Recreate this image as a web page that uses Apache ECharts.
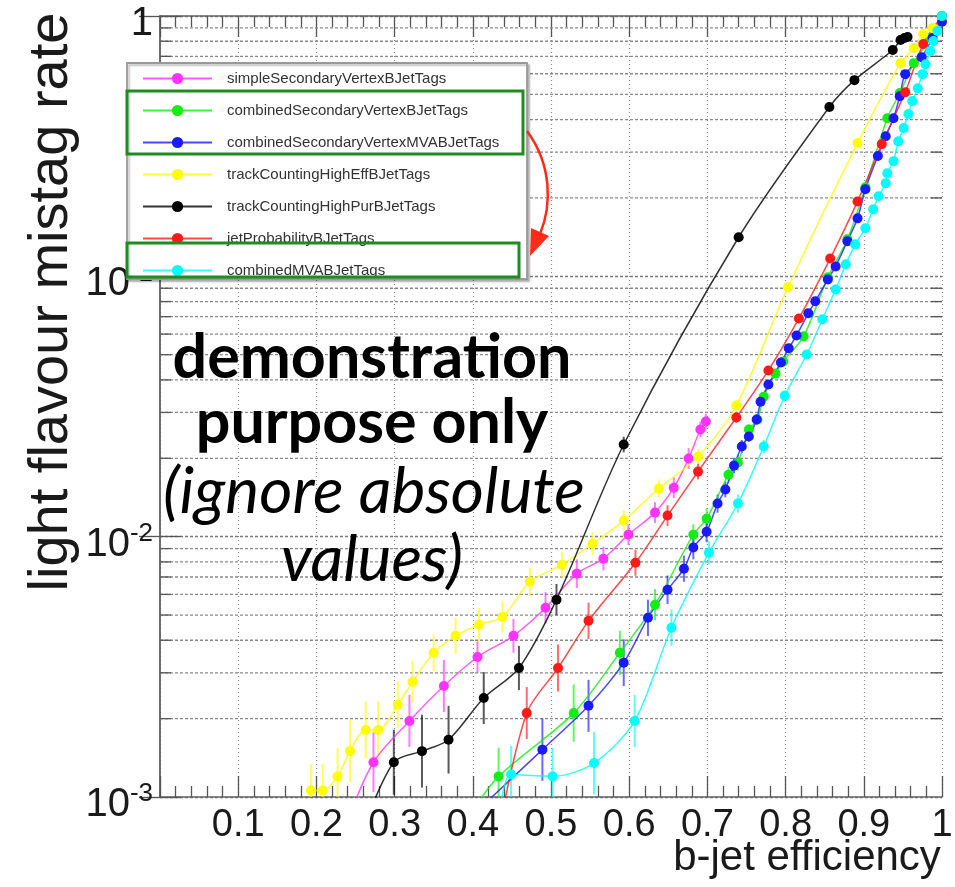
<!DOCTYPE html>
<html><head><meta charset="utf-8">
<script src="https://cdn.jsdelivr.net/npm/echarts@6/dist/echarts.min.js"></script>
<style>html,body{margin:0;padding:0;background:#fff}#c{width:955px;height:887px}</style>
</head><body><div id="c"></div>
<script>
// ---------------- data ----------------
const seriesNames = ['simpleSecondaryVertexBJetTags','combinedSecondaryVertexBJetTags','combinedSecondaryVertexMVABJetTags','trackCountingHighEffBJetTags','trackCountingHighPurBJetTags','jetProbabilityBJetTags','combinedMVABJetTags'];

const ssvX = [0.238,0.273,0.319,0.363,0.406,0.452,0.493,0.533,0.567,0.599,0.633,0.657,0.676,0.691,0.698];
const ssvY = [7.87e-4,1.36e-3,1.96e-3,2.67e-3,3.45e-3,4.16e-3,5.33e-3,7.21e-3,8.23e-3,0.01018,0.01237,0.01542,0.01995,0.0258,0.0277];
const ssvErr = [0,0.115,0.10,0.10,0.06,0.065,0.06,0.055,0.045,0.04,0.04,0.04,0.04,0.03,0.03];

const csvX = [0.397,0.433,0.529,0.588,0.633,0.682,0.699,0.727,0.739,0.753,0.764,0.772,0.787,0.797,0.823,0.854,0.879,0.902,0.930,0.946,0.964,0.985,1.0];
const csvY = [8.60e-4,1.20e-3,2.10e-3,3.58e-3,5.48e-3,0.01018,0.01173,0.01730,0.01927,0.0258,0.0282,0.0345,0.0423,0.0471,0.0588,0.0991,0.1387,0.220,0.405,0.506,0.659,0.823,1.0];
const csvErr = [0,0.11,0.11,0.085,0.06,0.04,0.04,0.03,0.03,0.02,0.02,0,0,0,0,0,0,0,0,0,0,0,0];

const csvmvaX = [0.397,0.489,0.548,0.593,0.624,0.649,0.670,0.682,0.699,0.713,0.723,0.734,0.744,0.753,0.763,0.768,0.778,0.794,0.804,0.814,0.829,0.838,0.854,0.864,0.879,0.892,0.902,0.918,0.928,0.938,0.946,0.953,0.974,0.988,1.0];
const csvmvaY = [8.37e-4,1.52e-3,2.24e-3,3.28e-3,4.88e-3,6.25e-3,7.53e-3,9.08e-3,0.01045,0.01340,0.01517,0.01875,0.02220,0.02426,0.0282,0.0330,0.0384,0.0467,0.0529,0.0593,0.0721,0.0802,0.0973,0.1092,0.1364,0.167,0.216,0.290,0.345,0.405,0.492,0.598,0.695,0.823,0.95];
const csvmvaErr = [0,0.12,0.10,0.09,0.07,0.055,0.05,0.045,0.04,0.035,0.03,0.03,0.025,0.02,0.02,0,0,0,0,0,0,0,0,0,0,0,0,0,0,0,0,0,0,0,0];

const tcheX = [0.193,0.208,0.227,0.243,0.263,0.279,0.304,0.323,0.350,0.378,0.408,0.438,0.473,0.514,0.553,0.593,0.638,0.688,0.737,0.803,0.892,0.947,0.964,0.976,0.988,1.0];
const tcheY = [1.06e-3,1.06e-3,1.20e-3,1.50e-3,1.81e-3,1.81e-3,2.26e-3,2.77e-3,3.58e-3,4.16e-3,4.59e-3,4.92e-3,6.71e-3,7.80e-3,9.40e-3,0.01153,0.01531,0.02031,0.0319,0.0908,0.325,0.659,0.753,0.853,0.899,1.0];
const tcheErr = [0.10,0.10,0.11,0.12,0.11,0.11,0.09,0.08,0.07,0.07,0.065,0.06,0.055,0.05,0.045,0.04,0.035,0.03,0.02,0,0,0,0,0,0,0];

const tchpX = [0.259,0.299,0.335,0.369,0.414,0.459,0.507,0.593,0.740,0.856,0.888,0.937,0.947,0.952,0.956];
const tchpY = [7.46e-4,1.36e-3,1.50e-3,1.66e-3,2.40e-3,3.13e-3,5.73e-3,0.02259,0.1413,0.447,0.567,0.740,0.809,0.823,0.831];
const tchpErr = [0,0.125,0.14,0.13,0.10,0.085,0.06,0.03,0,0,0,0,0,0,0];

const jpX = [0.433,0.469,0.509,0.548,0.608,0.649,0.688,0.737,0.778,0.817,0.857,0.892,0.923,0.953,0.976,1.0];
const jpY = [7.33e-4,2.10e-3,3.13e-3,4.75e-3,7.94e-3,0.01205,0.01778,0.0287,0.0435,0.0689,0.117,0.194,0.322,0.510,0.780,1.0];
const jpErr = [0,0.10,0.09,0.07,0.05,0.04,0.03,0.02,0,0,0,0,0,0,0,0];

const cmvaX = [0.433,0.449,0.502,0.555,0.607,0.654,0.702,0.739,0.772,0.799,0.827,0.847,0.864,0.877,0.889,0.902,0.912,0.919,0.928,0.930,0.938,0.944,0.951,0.957,0.962,0.969,0.975,0.979,0.985,0.989,0.994,1.0];
const cmvaY = [7.67e-4,1.22e-3,1.20e-3,1.35e-3,1.96e-3,4.47e-3,8.68e-3,0.01340,0.02220,0.0348,0.0501,0.0684,0.0891,0.1112,0.1327,0.153,0.181,0.203,0.228,0.249,0.277,0.330,0.371,0.420,0.471,0.528,0.598,0.653,0.733,0.801,0.876,1.0];
const cmvaErr = [0,0.11,0.11,0.12,0.10,0.07,0.045,0.035,0.025,0.02,0,0,0,0,0,0,0,0,0,0,0,0,0,0,0,0,0,0,0,0,0,0];

const xTickLabels = ['0.1','0.2','0.3','0.4','0.5','0.6','0.7','0.8','0.9','1'];
const yMinorTicks = [2e-3,3e-3,4e-3,5e-3,6e-3,7e-3,8e-3,9e-3,2e-2,3e-2,4e-2,5e-2,6e-2,7e-2,8e-2,9e-2,0.2,0.3,0.4,0.5,0.6,0.7,0.8,0.9];
const overlayLines = ['demonstration','purpose only','(ignore absolute','values)'];

// ---------------- chart ----------------
const groups = [
  {x: ssvX, y: ssvY, e: ssvErr, color: '#ff33ff'},
  {x: csvX, y: csvY, e: csvErr, color: '#11ee11'},
  {x: csvmvaX, y: csvmvaY, e: csvmvaErr, color: '#1a1aff'},
  {x: tcheX, y: tcheY, e: tcheErr, color: '#ffff00'},
  {x: tchpX, y: tchpY, e: tchpErr, color: '#000000'},
  {x: jpX, y: jpY, e: jpErr, color: '#ff1a1a'},
  {x: cmvaX, y: cmvaY, e: cmvaErr, color: '#00ffff'}
];

const chart = echarts.init(document.getElementById('c'), null, {renderer: 'canvas'});
const FONT = 'Liberation Sans, Arial, sans-serif';
const series = [];

// minor log gridlines & ticks
series.push({
  type: 'custom', silent: true, z: 1, xAxisIndex: 0, yAxisIndex: 0,
  data: yMinorTicks.map(v => [0, v]), encode: {x: 0, y: 1},
  renderItem: function (params, api) {
    const cs = params.coordSys;
    const y = api.coord([0, api.value(1)])[1];
    return {type: 'group', children: [
      {type: 'line', shape: {x1: cs.x, y1: y, x2: cs.x + cs.width, y2: y}, style: {stroke: '#8a8a8a', lineWidth: 1.3, lineDash: [3, 2]}},
      {type: 'line', shape: {x1: cs.x, y1: y, x2: cs.x + 11, y2: y}, style: {stroke: '#555', lineWidth: 1.3}},
      {type: 'line', shape: {x1: cs.x + cs.width - 11, y1: y, x2: cs.x + cs.width, y2: y}, style: {stroke: '#555', lineWidth: 1.3}}
    ]};
  }
});

groups.forEach((g, i) => {
  const errData = [];
  g.x.forEach((xv, k) => { if (g.e[k] > 0) errData.push([xv, g.y[k] * Math.pow(10, -g.e[k]), g.y[k] * Math.pow(10, g.e[k])]); });
  series.push({
    type: 'custom', silent: true, z: 2, data: errData, encode: {x: 0, y: [1, 2]},
    renderItem: function (params, api) {
      const cs = params.coordSys;
      const p1 = api.coord([api.value(0), api.value(1)]);
      const p2 = api.coord([api.value(0), api.value(2)]);
      const yb = Math.min(p1[1], cs.y + cs.height), yt = Math.max(p2[1], cs.y);
      return {type: 'line', shape: {x1: p1[0], y1: yb, x2: p1[0], y2: yt}, style: {stroke: g.color, lineWidth: 2, opacity: 0.65}};
    }
  });
  series.push({
    type: 'line', name: seriesNames[i], data: g.x.map((xv, k) => [xv, g.y[k]]),
    symbol: 'circle', symbolSize: 10, smooth: 0.3, clip: true, z: 3,
    lineStyle: {width: 1.5, color: g.color, opacity: 0.8},
    itemStyle: {color: g.color},
    emphasis: {disabled: true}
  });
});

const axisLineStyle = {show: true, lineStyle: {color: '#666', width: 1.5}};

const option = {
  animation: false,
  backgroundColor: '#fff',
  grid: {left: 160, right: 13, top: 16, bottom: 90, containLabel: false, outerBoundsMode: 'none'},
  xAxis: [{
    type: 'value', min: 0, max: 1, interval: 0.1, position: 'bottom',
    axisLine: axisLineStyle,
    axisTick: {show: true, inside: true, length: 21, lineStyle: {color: '#555', width: 1.3}},
    minorTick: {show: true, splitNumber: 5, length: 11, lineStyle: {color: '#555', width: 1.3}},
    axisLabel: {show: true, margin: 10, fontFamily: FONT, fontSize: 38, color: '#1a1a1a',
      formatter: v => { const k = Math.round(v * 10); return k === 0 ? '' : xTickLabels[k - 1]; }},
    splitLine: {show: true, lineStyle: {color: '#8a8a8a', width: 1.2, type: [1, 3]}},
    name: 'b-jet efficiency', nameLocation: 'middle', nameGap: 40, nameMoveOverlap: false,
    nameTextStyle: {fontFamily: FONT, fontSize: 42, color: '#1a1a1a', padding: [0, 0, 0, 512]}
  }, {
    type: 'value', min: 0, max: 1, interval: 0.1, position: 'top',
    axisLine: axisLineStyle,
    axisTick: {show: true, inside: true, length: 21, lineStyle: {color: '#555', width: 1.3}},
    minorTick: {show: true, splitNumber: 5, length: 11, lineStyle: {color: '#555', width: 1.3}},
    axisLabel: {show: false}, splitLine: {show: false}
  }],
  yAxis: [{
    type: 'log', logBase: 10, min: 1e-3, max: 1, position: 'left',
    axisLine: axisLineStyle,
    axisTick: {show: true, inside: true, length: 21, lineStyle: {color: '#555', width: 1.3}},
    axisLabel: {show: true, margin: 7, color: '#1a1a1a', fontFamily: FONT,
      formatter: v => { const p = Math.round(Math.log10(v)); return p === 0 ? '{b|1}' : '{b|10}{s|' + p + '}'; },
      rich: {b: {fontFamily: FONT, fontSize: 40, lineHeight: 44, color: '#1a1a1a', padding: [16, 0, 0, 0]},
             s: {fontFamily: FONT, fontSize: 26, lineHeight: 26, color: '#1a1a1a', verticalAlign: 'top', padding: [6, 0, 0, 0]}}},
    splitLine: {show: true, lineStyle: {color: '#7a7a7a', width: 1.3, type: [3, 2]}},
    name: 'light flavour mistag rate', nameLocation: 'middle', nameGap: 80, nameMoveOverlap: false,
    nameTextStyle: {fontFamily: FONT, fontSize: 56, color: '#1a1a1a', padding: [0, 0, 0, 209]}
  }, {
    type: 'log', logBase: 10, min: 1e-3, max: 1, position: 'right',
    axisLine: axisLineStyle,
    axisTick: {show: true, inside: true, length: 21, lineStyle: {color: '#555', width: 1.3}},
    axisLabel: {show: false}, splitLine: {show: false}
  }],
  legend: {
    show: true, orient: 'vertical', left: 142, top: 71, itemWidth: 69, itemHeight: 14, itemGap: 17,
    padding: 0, selectedMode: false, z: 6, data: seriesNames,
    textStyle: {fontFamily: FONT, fontSize: 15, color: '#333', padding: [0, 0, 0, 10]}
  },
  graphic: [
    {type: 'rect', z: 4, shape: {x: 127, y: 63, width: 400, height: 216},
     style: {fill: '#fff', stroke: '#999', lineWidth: 1.8, shadowColor: 'rgba(0,0,0,0.25)', shadowOffsetX: 2, shadowOffsetY: 2, shadowBlur: 2}},
    {type: 'rect', z: 8, shape: {x: 127, y: 91, width: 396, height: 63}, style: {fill: 'none', stroke: '#1e8c1e', lineWidth: 3}},
    {type: 'rect', z: 8, shape: {x: 127, y: 243, width: 392, height: 34}, style: {fill: 'none', stroke: '#1e8c1e', lineWidth: 3}},
    {type: 'bezierCurve', z: 8, shape: {x1: 527, y1: 131, cpx1: 552, cpy1: 165, cpx2: 552, cpy2: 205, x2: 540, y2: 234},
     style: {fill: 'none', stroke: '#ff2a1a', lineWidth: 2.5}},
    {type: 'polygon', z: 8, shape: {points: [[531, 228], [549, 236], [530, 256]]}, style: {fill: '#ff2a1a'}},
    {type: 'text', z: 9, x: 372, y: 358, style: {text: overlayLines[0], font: 'bold 61px Lato, sans-serif', fill: '#000', align: 'center', verticalAlign: 'middle'}},
    {type: 'text', z: 9, x: 372, y: 423, style: {text: overlayLines[1], font: 'bold 61px Lato, sans-serif', fill: '#000', align: 'center', verticalAlign: 'middle'}},
    {type: 'text', z: 9, x: 374, y: 492, style: {text: overlayLines[2], font: 'italic 64px Lato, sans-serif', fill: '#000', align: 'center', verticalAlign: 'middle'}},
    {type: 'text', z: 9, x: 372, y: 560, style: {text: overlayLines[3], font: 'italic 64px Lato, sans-serif', fill: '#000', align: 'center', verticalAlign: 'middle'}}
  ],
  series: series
};
chart.setOption(option);
</script></body></html>
